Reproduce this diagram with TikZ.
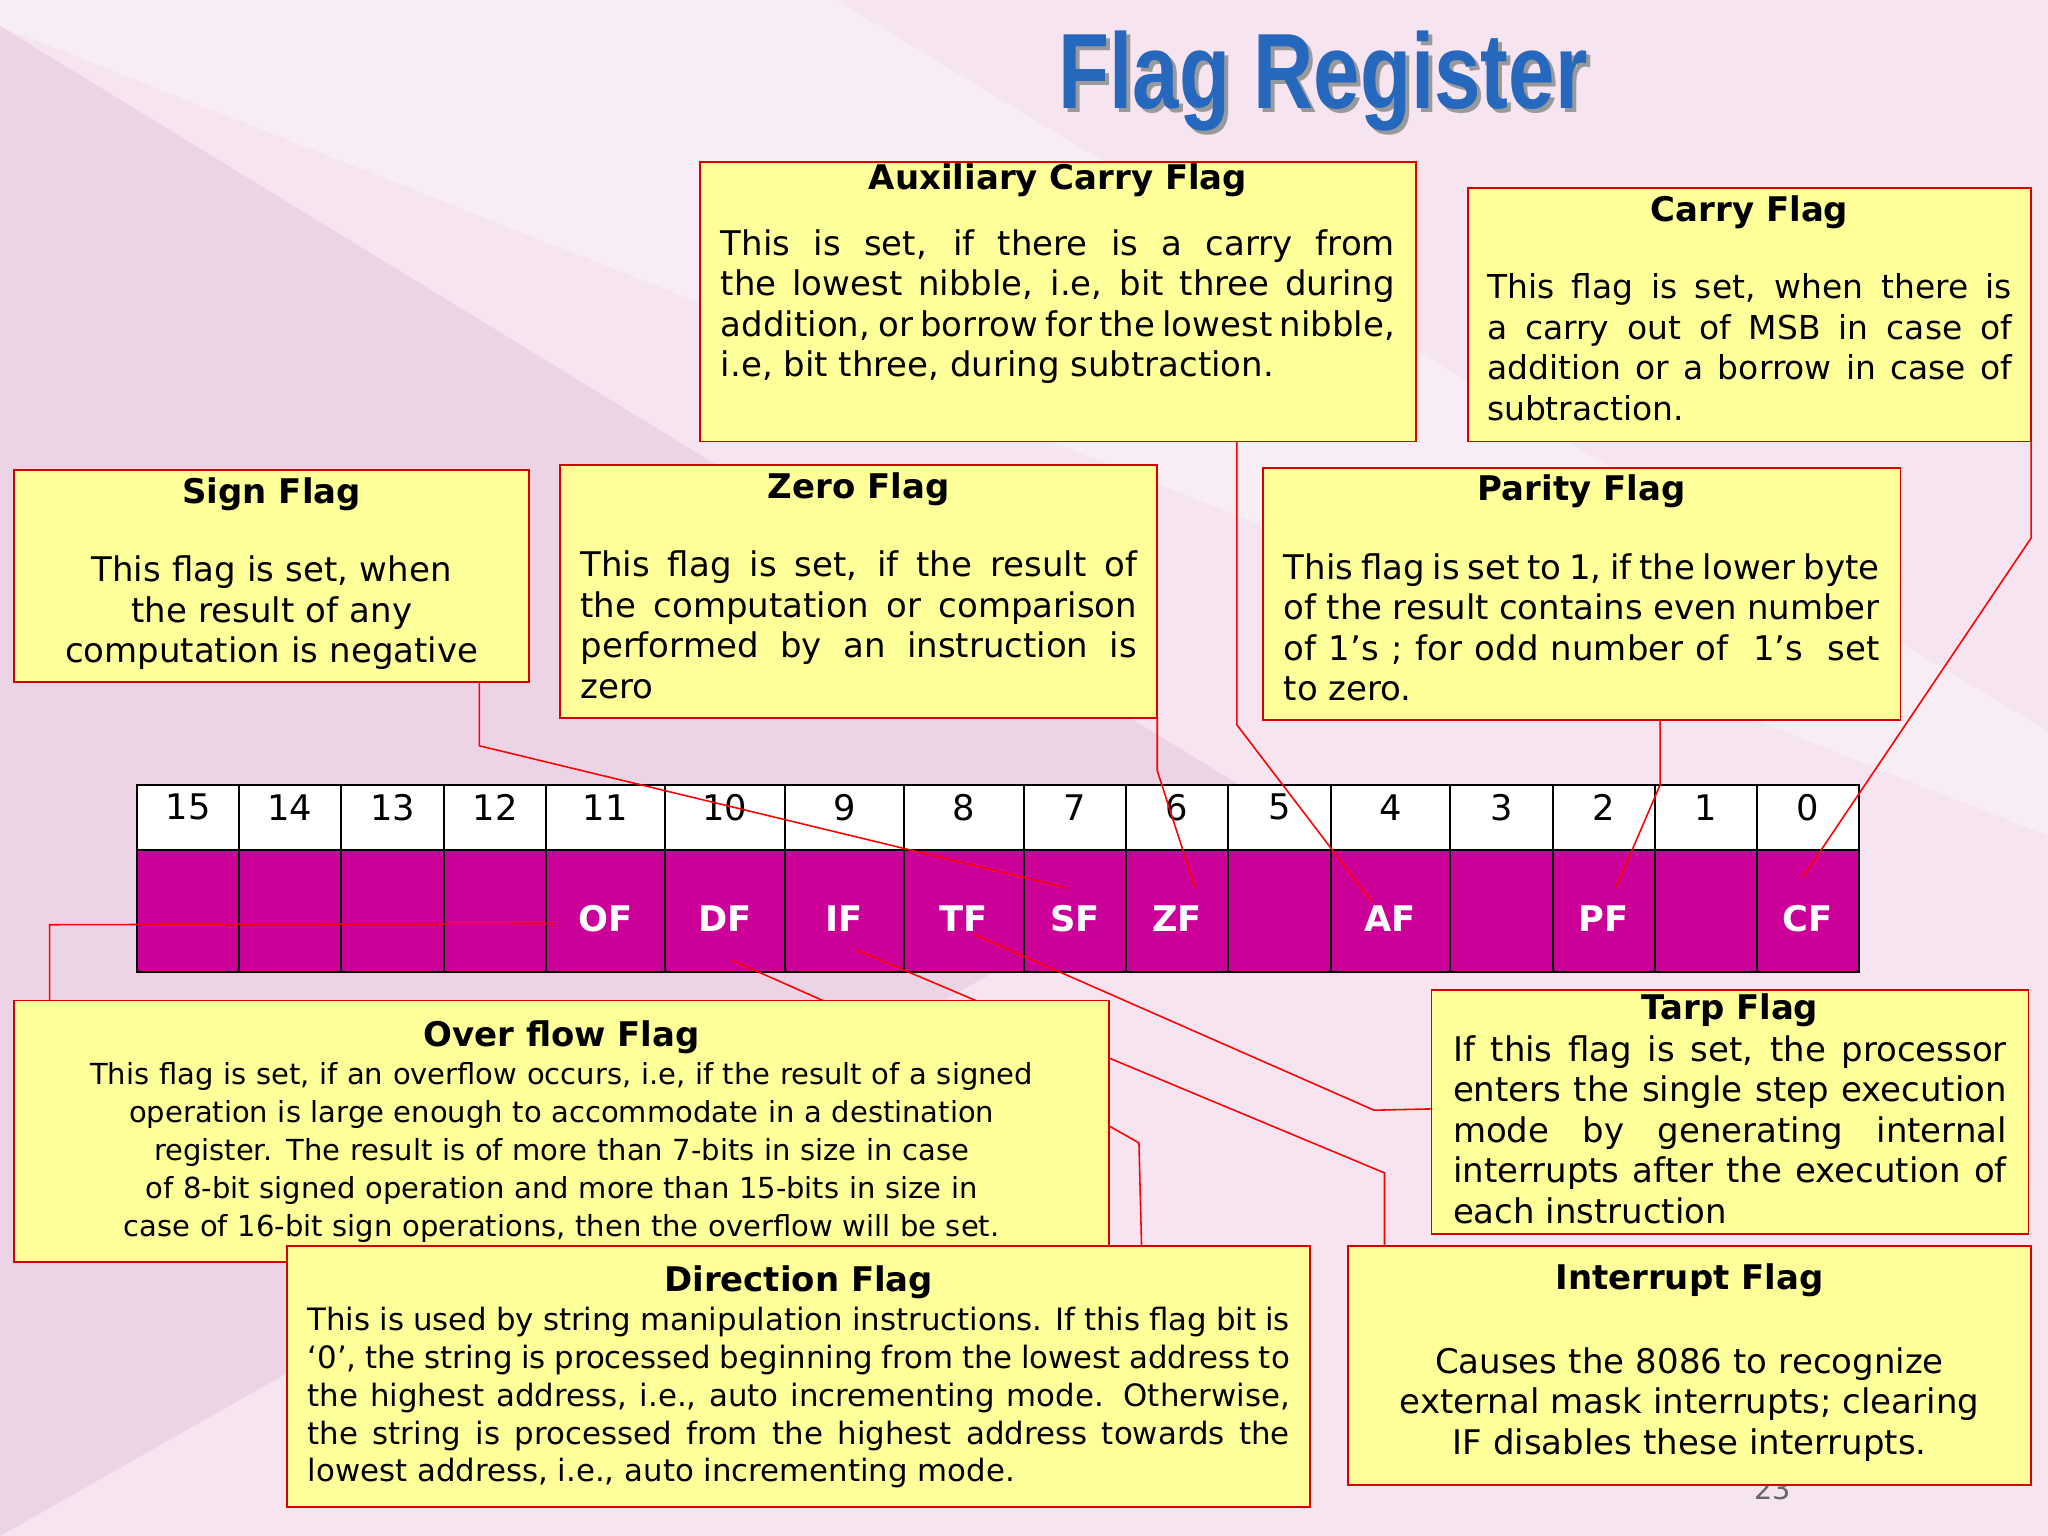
\documentclass[tikz,border=0pt]{standalone}
\usepackage{fontspec}
\setmainfont{DejaVu Sans}
\newfontfamily\titlefont{Liberation Sans}
\usetikzlibrary{fit,calc}
\definecolor{bgpink}{RGB}{246,228,240}
\definecolor{bgdark}{RGB}{236,212,230}
\definecolor{boxy}{RGB}{255,255,153}
\definecolor{mag}{RGB}{204,0,153}
\definecolor{ttl}{RGB}{38,104,190}
\tikzset{
 box/.style={draw=red!85!black, line width=0.7pt, fill=boxy, inner sep=0pt},
 nohy/.style={execute at begin node={\hyphenpenalty=10000\relax\exhyphenpenalty=10000\relax}},
 bt/.style={anchor=north, text width=#1, align=justify, inner sep=0pt, nohy, font=\fontsize{13}{15.5}\selectfont},
 btc/.style={anchor=north, text width=#1, align=center, inner sep=0pt, nohy, font=\fontsize{13}{15.5}\selectfont},
 hd/.style={anchor=north, inner sep=0pt, font=\bfseries\fontsize{13}{15.5}\selectfont},
 conn/.style={draw=red, line width=0.6pt},
 num/.style={draw=black, line width=0.8pt, fill=white, inner sep=0pt},
 bit/.style={draw=black, line width=0.8pt, fill=mag, inner sep=0pt},
}
\begin{document}
\begin{tikzpicture}[x=0.5pt,y=-0.5pt]
\useasboundingbox (0,0) rectangle (1568,1176);
\fill[bgpink] (0,0) rectangle (1568,1176);
\fill[bgdark] (0,20) -- (980,620) -- (0,1176) -- cycle;
\fill[white,opacity=0.35] (0,0) -- (640,0) -- (1568,560) -- (1568,640) -- (0,20) -- cycle;
% title
\node[text=black!40, font=\titlefont\bfseries\fontsize{41}{41}\selectfont, xscale=0.78, transform shape] at (1016,65) {Flag Register};
\node[text=ttl, font=\titlefont\bfseries\fontsize{41}{41}\selectfont, xscale=0.78, transform shape] (title) at (1013,62) {Flag Register};
\node[text=black!60, font=\fontsize{11}{11}\selectfont] (pg) at (1357,1140) {23};
% register
\foreach \i/\a/\b/\lab in {15/105/183/,14/183/261/,13/261/340/,12/340/418/,11/418/509/OF,10/509/601/DF,9/601/692/IF,8/692/784/TF,7/784/862/SF,6/862/940/ZF,5/940/1019/,4/1019/1110/AF,3/1110/1189/,2/1189/1267/PF,1/1267/1345/,0/1345/1423/CF}{
 \node[num, fit={(\a,601)(\b,651)}] (n\i) {};
 \node[font=\fontsize{13.5}{13.5}\selectfont] at ($(n\i.center)+(0,-8)$) {\i};
 \node[bit, fit={(\a,651)(\b,744)}] (b\i) {};
 \node[text=white, font=\bfseries\fontsize{13.5}{13.5}\selectfont] at ($(b\i.center)+(0,6)$) {\lab};
}
% connectors
\coordinate (s1) at (367,522); \coordinate (s2) at (367,571); \coordinate (s3) at (818,680);
\draw[conn] (s1) -- (s2) -- (s3);
\draw[conn] (886,550) -- (886,590) -- (915,680);
\draw[conn] (947,338) -- (947,555) -- (1050,690);
\draw[conn] (1271,551) -- (1271,601) -- (1237,680);
\draw[conn] (1555,338) -- (1555,412) -- (1380,672);
\draw[conn] (425,707) -- (38,708) -- (38,766);
\draw[conn] (560,735) -- (630,766);
\draw[conn] (849,862) -- (872,875) -- (874,954);
\draw[conn] (655,727) -- (747,766);
\draw[conn] (849,810) -- (1060,898) -- (1060,954);
\draw[conn] (745,715) -- (1052,850) -- (1096,849);
% Aux
\node[box, fit={(536,124)(1084,338)}] (aux) {};
\node[hd] at ($(aux.north)+(0,2)$) {Auxiliary Carry Flag};
\node[bt=258pt] at ($(aux.north)+(0,52)$) {This is set, if there is a carry from the lowest nibble, i.e, bit three during addition, or borrow for the lowest nibble, i.e, bit three, during subtraction.};
% Carry
\node[box, fit={(1124,144)(1555,338)}] (carry) {};
\node[hd] at ($(carry.north)+(0,6)$) {Carry Flag};
\node[bt=201pt, font=\fontsize{12.6}{15.5}\selectfont] at ($(carry.north)+(0,66)$) {This flag is set, when there is a carry out of MSB in case of addition or a borrow in case of subtraction.};
% Sign
\node[box, fit={(11,360)(405,522)}] (sign) {};
\node[hd] at ($(sign.north)+(0,6)$) {Sign Flag};
\node[btc=175pt] at ($(sign.north)+(0,66)$) {This flag is set, when the result of any computation is negative};
% Zero
\node[box, fit={(429,356)(886,550)}] (zero) {};
\node[hd] at ($(zero.north)+(0,6)$) {Zero Flag};
\node[bt=213pt] at ($(zero.north)+(0,66)$) {This flag is set, if the result of the computation or comparison performed by an instruction is zero};
% Parity
\node[box, fit={(967,358)(1455,551)}] (parity) {};
\node[hd] at ($(parity.north)+(0,6)$) {Parity Flag};
\node[bt=228pt] at ($(parity.north)+(0,66)$) {This flag is set to 1, if the lower byte of the result contains even number\ \ \ of 1’s ; for odd number of\ \ 1’s\ \ set to zero.};
% Overflow
\node[box, fit={(11,766)(849,966)}] (over) {};
\node[hd] at ($(over.north)+(0,16)$) {Over flow Flag};
\node[btc=405pt, font=\fontsize{11.1}{14.5}\selectfont] at ($(over.north)+(0,48)$) {This flag is set, if an overflow occurs, i.e, if the result of a signed operation is large enough to accommodate in a destination register. The result is of more than 7-bits in size in case of 8-bit signed operation and more than 15-bits in size in case of 16-bit sign operations, then the overflow will be set.};
% Tarp
\node[box, fit={(1096,758)(1553,945)}] (tarp) {};
\node[hd] at ($(tarp.north)+(0,3)$) {Tarp Flag};
\node[bt=212pt] at ($(tarp.north)+(0,35)$) {If this flag is set, the processor enters the single step execution mode by generating internal interrupts after the execution of each instruction};
% Direction
\node[box, fit={(220,954)(1003,1154)}] (dir) {};
\node[hd] at ($(dir.north)+(0,15)$) {Direction Flag};
\node[bt=376pt, font=\fontsize{11.8}{14.5}\selectfont] at ($(dir.north)+(0,47)$) {This is used by string manipulation instructions. If this flag bit is ‘0’, the string is processed beginning from the lowest address to the highest address, i.e., auto incrementing mode. Otherwise, the string is processed from the highest address towards the lowest address, i.e., auto incrementing mode.};
% Interrupt
\node[box, fit={(1032,954)(1555,1137)}] (intr) {};
\node[hd] at ($(intr.north)+(0,14)$) {Interrupt Flag};
\node[btc=250pt] at ($(intr.north)+(0,78)$) {Causes the 8086 to recognize external mask interrupts; clearing IF disables these interrupts.};
\end{tikzpicture}
\end{document}
